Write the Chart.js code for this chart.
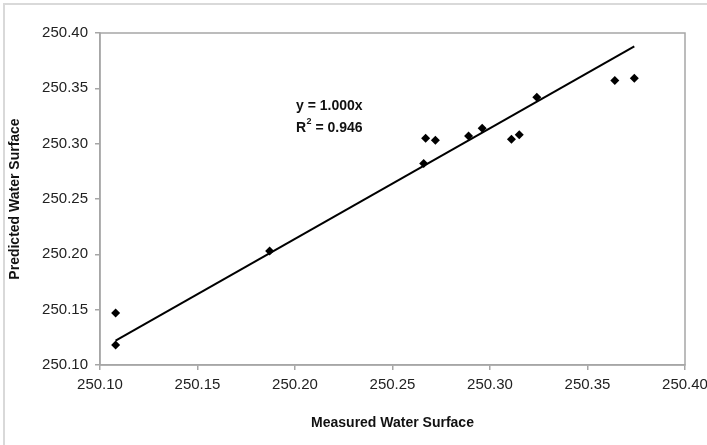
<!DOCTYPE html>
<html>
<head>
<meta charset="utf-8">
<script src="https://cdn.jsdelivr.net/npm/chart.js@4.4.1/dist/chart.umd.min.js"></script>
<style>
  html, body { margin: 0; padding: 0; background: #fff; }
  #wrap { width: 707px; height: 445px; position: relative; }
</style>
</head>
<body>
<div id="wrap"><canvas id="myChart" width="707" height="445"></canvas></div>
<script>
// measured vs predicted water surface
var measured = [250.108, 250.108, 250.187, 250.266, 250.267, 250.272, 250.289, 250.296, 250.311, 250.315, 250.324, 250.364, 250.374];
var predicted = [250.147, 250.118, 250.203, 250.282, 250.305, 250.303, 250.307, 250.314, 250.304, 250.308, 250.342, 250.357, 250.359];

// fitted trendline end points
var trendX = [250.108, 250.374];
var trendY = [250.122, 250.388];

var xTicks = [250.10, 250.15, 250.20, 250.25, 250.30, 250.35, 250.40];
var yTicks = [250.10, 250.15, 250.20, 250.25, 250.30, 250.35, 250.40];

var equationText = 'y = 1.000x';
var r2Text = '0.946';

var points = measured.map(function (m, i) { return { x: m, y: predicted[i] }; });
var trend = trendX.map(function (t, i) { return { x: t, y: trendY[i] }; });

var frame = {
    id: 'frame',
    beforeDraw: function (chart) {
        var c = chart.ctx;
        c.save();
        c.fillStyle = '#fff';
        c.fillRect(0, 0, chart.width, chart.height);
        // outer chart border (only top & left visible)
        c.strokeStyle = '#d9d9d9';
        c.lineWidth = 2;
        c.beginPath();
        c.moveTo(4, chart.height);
        c.lineTo(4, 4);
        c.lineTo(chart.width, 4);
        c.stroke();
        c.restore();
    },
    afterDatasetsDraw: function (chart) {
        var c = chart.ctx;
        var a = chart.chartArea;
        c.save();
        c.strokeStyle = '#a6a6a6';
        c.lineWidth = 1.5;
        c.strokeRect(a.left, a.top, a.right - a.left, a.bottom - a.top);

        // equation label
        var tx = 296, ty = 106;
        c.fillStyle = '#111';
        c.font = 'bold 14px "Liberation Sans", Arial, sans-serif';
        c.textBaseline = 'middle';
        c.textAlign = 'left';
        c.fillText(equationText, tx, ty);
        var y2 = ty + 22;
        c.fillText('R', tx, y2);
        var rw = c.measureText('R').width;
        c.font = 'bold 9px "Liberation Sans", Arial, sans-serif';
        c.fillText('2', tx + rw + 0.5, y2 - 6);
        var sw = c.measureText('2').width;
        c.font = 'bold 14px "Liberation Sans", Arial, sans-serif';
        c.fillText(' = ' + r2Text, tx + rw + sw + 0.5, y2);
        c.restore();
    }
};

var ctx = document.getElementById('myChart').getContext('2d');
new Chart(ctx, {
    type: 'scatter',
    data: {
        datasets: [{
            label: 'Points',
            data: points,
            pointStyle: 'rectRot',
            pointRadius: 4.5,
            backgroundColor: '#000',
            borderColor: '#000',
            borderWidth: 0,
            order: 1
        }, {
            type: 'line',
            label: 'Trend',
            data: trend,
            borderColor: '#000',
            borderWidth: 2,
            pointRadius: 0,
            fill: false,
            order: 2
        }]
    },
    plugins: [frame],
    options: {
        responsive: false,
        animation: false,
        events: [],
        layout: { autoPadding: false, padding: { left: 0, top: 33, right: 22, bottom: 0 } },
        plugins: { legend: { display: false }, tooltip: { enabled: false } },
        scales: {
            x: {
                type: 'linear',
                min: 250.10,
                max: 250.40,
                afterFit: function (s) {
                    s.height = 80;
                    s.paddingLeft = 0;
                    s.paddingRight = 0;
                },
                afterBuildTicks: function (s) { s.ticks = xTicks.map(function (v) { return { value: v }; }); },
                ticks: {
                    padding: 6,
                    color: '#222',
                    font: { family: '"Liberation Sans", Arial, sans-serif', size: 15 },
                    callback: function (v) { return Number(v).toFixed(2); }
                },
                grid: { drawOnChartArea: false, drawTicks: true, tickLength: 5, color: '#a6a6a6', lineWidth: 1.5 },
                border: { display: true, color: '#a6a6a6', width: 1.5 },
                title: {
                    display: true,
                    text: 'Measured Water Surface',
                    color: '#111',
                    font: { family: '"Liberation Sans", Arial, sans-serif', size: 14, weight: 'bold' },
                    padding: { top: 0, bottom: 13 }
                }
            },
            y: {
                type: 'linear',
                min: 250.10,
                max: 250.40,
                afterFit: function (s) {
                    s.width = 100;
                    s.paddingTop = 0;
                    s.paddingBottom = 0;
                },
                afterBuildTicks: function (s) { s.ticks = yTicks.map(function (v) { return { value: v }; }); },
                ticks: {
                    padding: 7,
                    color: '#222',
                    font: { family: '"Liberation Sans", Arial, sans-serif', size: 15 },
                    callback: function (v) { return Number(v).toFixed(2); }
                },
                grid: { drawOnChartArea: false, drawTicks: true, tickLength: 5, color: '#a6a6a6', lineWidth: 1.5 },
                border: { display: true, color: '#a6a6a6', width: 1.5 },
                title: {
                    display: true,
                    text: 'Predicted Water Surface',
                    color: '#111',
                    font: { family: '"Liberation Sans", Arial, sans-serif', size: 14, weight: 'bold' },
                    padding: { top: 7, bottom: 0 }
                }
            }
        }
    }
});
</script>
</body>
</html>
